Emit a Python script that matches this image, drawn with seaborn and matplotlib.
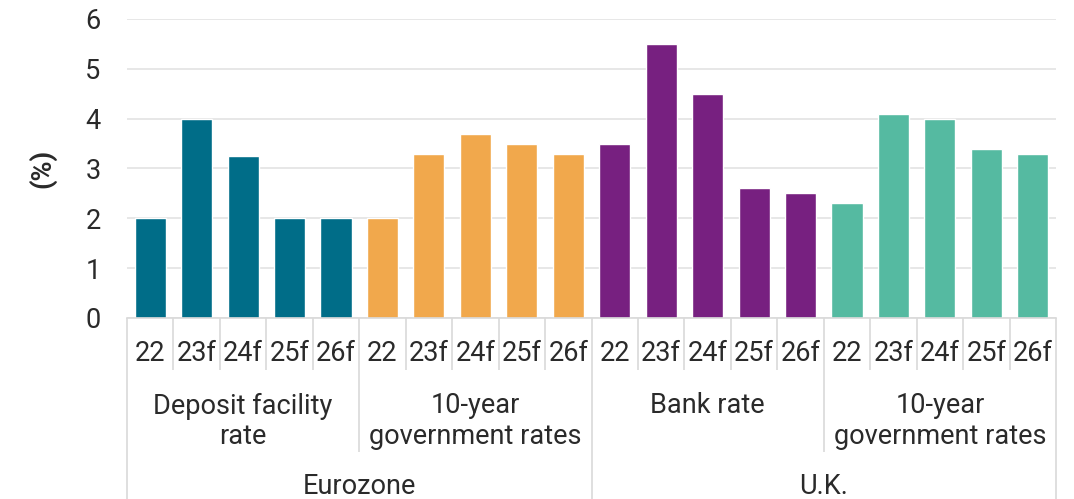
import matplotlib
matplotlib.use("Agg")
import matplotlib.pyplot as plt
import seaborn as sns
import pandas as pd

# Policy and 10-year government rates, actual and forecast (%)
years = ["22", "23f", "24f", "25f", "26f"]
regions = ["Eurozone", "U.K."]
measures = [
    ("Eurozone", "Deposit facility\nrate"),
    ("Eurozone", "10-year\ngovernment rates"),
    ("U.K.", "Bank rate"),
    ("U.K.", "10-year\ngovernment rates"),
]
deposit_facility_rate = [2.0, 4.0, 3.25, 2.0, 2.0]
eurozone_10y = [2.0, 3.3, 3.7, 3.5, 3.3]
uk_bank_rate = [3.5, 5.5, 4.5, 2.6, 2.5]
uk_10y = [2.3, 4.1, 4.0, 3.4, 3.3]
series_values = [deposit_facility_rate, eurozone_10y, uk_bank_rate, uk_10y]
colors = ["#006D88", "#F1A84C", "#772080", "#55BAA1"]

rows = []
for g, ((region, measure), vals) in enumerate(zip(measures, series_values)):
    for y, v in zip(years, vals):
        rows.append({"pos": f"{g}-{y}", "year": y, "group": g,
                     "region": region, "measure": measure, "value": v})
df = pd.DataFrame(rows)

sns.set_theme(style="white")
plt.rcParams["font.family"] = ["Roboto", "DejaVu Sans"]
text_color = "#2A2A2A"
line_color = "#D9D9D9"
FS = 19.5
FW = "normal"

fig = plt.figure(figsize=(10.74, 4.99), dpi=100)
W, H = 1074, 499
left, right, top, bottom = 127, 1056, 19, 318
ax = fig.add_axes([left / W, (H - bottom) / H, (right - left) / W, (bottom - top) / H])

sns.barplot(data=df, x="pos", y="value", hue="group", palette=colors,
            dodge=False, width=0.67, legend=False, ax=ax, saturation=1)

n = len(df)
ax.set_xlim(-0.5, n - 0.5)
ax.set_ylim(0, 6)
ax.set_yticks(range(0, 7))
ax.yaxis.grid(True, color="#E3E3E3", linewidth=1.2)
ax.set_axisbelow(True)
for s in ["left", "right", "top"]:
    ax.spines[s].set_visible(False)
ax.spines["bottom"].set_color(line_color)
ax.spines["bottom"].set_linewidth(1.2)
ax.tick_params(axis="y", length=0, pad=19, labelsize=FS, labelcolor=text_color)
for lab in ax.get_yticklabels():
    lab.set_fontweight(FW)
ax.set_xticks([])
ax.set_xlabel("")
ax.set_ylabel("(%)", fontsize=FS, fontweight="bold", color=text_color, labelpad=21)

trans = ax.get_xaxis_transform()
per_group = len(years)
per_region = per_group * 2
y_short, y_mid, y_long = -0.174, -0.448, -0.605

# Separators of the three-level category axis
for b in range(n + 1):
    xb = b - 0.5
    if b % per_region == 0:
        y_end = y_long
    elif b % per_group == 0:
        y_end = y_mid
    else:
        y_end = y_short
    ax.plot([xb, xb], [0, y_end], transform=trans, color=line_color,
            linewidth=1.2, clip_on=False, solid_capstyle="butt")

# Year labels
for i, row in df.iterrows():
    ax.text(i, -0.12, row["year"], transform=trans, ha="center", va="center",
            fontsize=FS, fontweight=FW, color=text_color)

# Measure labels, first line aligned across groups
for g, (region, measure) in enumerate(measures):
    xc = g * per_group + (per_group - 1) / 2
    ax.text(xc, -0.249, measure, transform=trans, ha="center", va="top",
            fontsize=FS, fontweight=FW, color=text_color, linespacing=1.15)

# Region labels
for r, region in enumerate(regions):
    xc = r * per_region + (per_region - 1) / 2
    ax.text(xc, -0.565, region, transform=trans, ha="center", va="center",
            fontsize=FS, fontweight=FW, color=text_color)

fig.savefig("out.png", dpi=100)
